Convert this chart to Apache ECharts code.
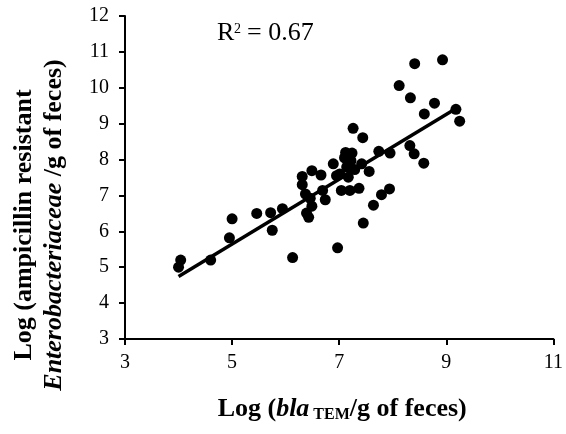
<!DOCTYPE html>
<html><head><meta charset="utf-8">
<script src="https://cdn.jsdelivr.net/npm/echarts@6/dist/echarts.min.js"></script>
<style>html,body{margin:0;padding:0;background:#fff}#c{width:566px;height:434px}</style>
</head><body><div id="c"></div>
<script>
const xValues = [4.00,4.04,4.60,4.95,5.00,5.46,5.72,5.75,5.94,6.13,6.31,6.31,6.37,6.39,6.43,6.46,6.49,6.49,6.66,6.69,6.74,6.89,6.95,6.97,7.01,7.04,7.12,7.14,7.17,7.20,7.24,7.26,7.29,7.37,7.44,7.42,7.45,7.56,7.64,7.74,7.79,7.94,7.95,8.12,8.33,8.32,8.40,8.41,8.59,8.58,8.78,8.93,9.18,9.25,7.22,7.10];
const yValues = [5.00,5.20,5.20,5.82,6.35,6.50,6.52,6.03,6.63,5.27,7.53,7.30,7.04,6.51,6.39,6.92,7.69,6.70,7.57,7.14,6.88,7.88,7.55,5.54,7.60,7.14,8.20,7.79,7.51,7.14,8.18,8.87,7.72,7.20,8.61,7.88,6.23,7.67,6.73,8.23,7.02,7.18,8.18,10.06,9.72,8.39,8.16,10.67,9.27,7.90,9.57,10.78,9.40,9.07,7.97,8.05];
const trendX = [4.0, 9.22];
const trendY = [4.74, 9.46];
const xTicks = [3,5,7,9,11];
const yTicks = [3,4,5,6,7,8,9,10,11,12];
const r2Text = '= 0.67';

const pts = xValues.map((x,i)=>[x,yValues[i]]);
const chart = echarts.init(document.getElementById('c'));
const font = '"Liberation Serif","Times New Roman",serif';
chart.setOption({
  animation:false,
  backgroundColor:'#fff',
  grid:{left:125,right:10,top:16,bottom:95,containLabel:false},
  xAxis:{type:'value',min:3,max:11,interval:2,
    axisLine:{onZero:false,lineStyle:{color:'#000',width:2}},
    axisTick:{show:true,inside:false,length:6,lineStyle:{color:'#000',width:2}},
    splitLine:{show:false},
    axisLabel:{color:'#000',fontFamily:font,fontSize:20,margin:14},
    name:'{b|Log (}{bi|bla}{sub| TEM}{b|/g of feces)}',nameLocation:'middle',nameGap:57,
    nameTextStyle:{padding:[0,0,0,6],rich:{
      b:{fontFamily:font,fontSize:26,fontWeight:'bold',color:'#000'},
      bi:{fontFamily:font,fontSize:26,fontWeight:'bold',fontStyle:'italic',color:'#000'},
      sub:{fontFamily:font,fontSize:16,fontWeight:'bold',color:'#000',verticalAlign:'bottom',padding:[11,0,0,0]}
    }}
  },
  yAxis:{type:'value',min:3,max:12,interval:1,
    axisLine:{onZero:false,lineStyle:{color:'#000',width:2}},
    axisTick:{show:true,inside:false,length:6,lineStyle:{color:'#000',width:2}},
    splitLine:{show:false},
    axisLabel:{color:'#000',fontFamily:font,fontSize:20,margin:16}
  },
  graphic:[
    {type:'text',x:39,y:225,rotation:Math.PI/2,style:{
      text:'{b|Log (ampicillin resistant}\n{bi|Enterobacteriaceae }{b|/g of feces)}',
      align:'center',verticalAlign:'middle',lineHeight:30,
      rich:{b:{fontFamily:font,fontSize:26,fontWeight:'bold',fill:'#000',lineHeight:30,align:'center'},
            bi:{fontFamily:font,fontSize:26,fontWeight:'bold',fontStyle:'italic',fill:'#000',lineHeight:30,align:'center'}}
    }},
    {type:'text',x:217,y:33,style:{text:'R',fontFamily:font,fontSize:26,fill:'#000',verticalAlign:'middle',align:'left'}},
    {type:'text',x:234,y:22,style:{text:'2',fontFamily:font,fontSize:14,fill:'#000',verticalAlign:'top',align:'left'}},
    {type:'text',x:247,y:33,style:{text:r2Text,fontFamily:font,fontSize:26,fill:'#000',verticalAlign:'middle',align:'left'}}
  ],
  series:[
    {type:'scatter',data:pts,symbol:'circle',symbolSize:11,itemStyle:{color:'#000',opacity:1},z:3},
    {type:'line',data:trendX.map((x,i)=>[x,trendY[i]]),symbol:'none',lineStyle:{color:'#000',width:3.5},z:4}
  ]
});
</script></body></html>
